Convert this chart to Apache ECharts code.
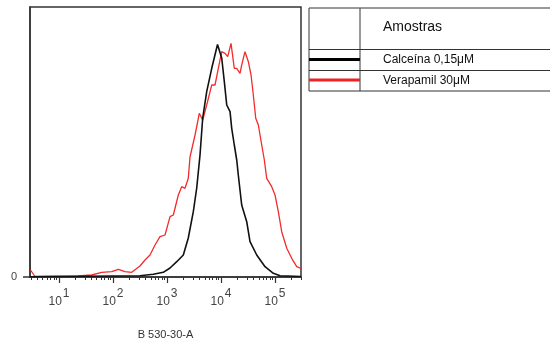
<!DOCTYPE html>
<html><head><meta charset="utf-8">
<script src="https://cdn.jsdelivr.net/npm/echarts@6/dist/echarts.min.js"></script>
<style>html,body{margin:0;padding:0;background:#fff}#c{width:550px;height:341px}</style>
</head><body><div id="c"></div>
<script>
// x values are log10(fluorescence intensity), y values are event counts (relative)
const seriesNames = ['Calceína 0,15μM', 'Verapamil 30μM'];
const legendTitle = 'Amostras';
const xTitle = 'B 530-30-A';
const majorTicks = [1, 2, 3, 4, 5];
const yTickLabels = [0];

const calceinaLog = [0.463, 2.5, 2.746, 2.931, 3.056, 3.180, 3.302, 3.394, 3.487, 3.550, 3.611, 3.661, 3.735, 3.828, 3.935, 4.013, 4.061, 4.106, 4.167, 4.198, 4.246, 4.291, 4.320, 4.383, 4.476, 4.537, 4.661, 4.815, 4.969, 5.093, 5.481];
const calceinaCount = [0.3, 1.3, 2.7, 4.7, 9, 15.3, 22, 39, 65.3, 89, 122, 159, 185.3, 208.7, 232.5, 219, 195.3, 172, 165.3, 148.7, 132, 117, 102, 72, 55.3, 35.3, 22, 10.3, 3.7, 1.3, 0.5];

const verapamilLog = [0.472, 0.556, 1.352, 1.606, 1.791, 1.976, 2.098, 2.222, 2.346, 2.5, 2.593, 2.685, 2.778, 2.870, 2.963, 3.056, 3.117, 3.209, 3.272, 3.333, 3.394, 3.426, 3.519, 3.598, 3.661, 3.735, 3.828, 3.889, 3.950, 4.013, 4.074, 4.124, 4.185, 4.246, 4.291, 4.352, 4.383, 4.444, 4.506, 4.556, 4.598, 4.643, 4.691, 4.754, 4.802, 4.846, 4.939, 5.0, 5.061, 5.124, 5.217, 5.309, 5.402, 5.481];
const verapamilCount = [7, 0.5, 1, 2, 4.7, 5.3, 7.7, 5.3, 4.7, 11, 17, 22, 32, 40.3, 42, 60.3, 62, 82, 90.3, 88.7, 98.7, 120, 142, 163.7, 157, 172, 192, 192, 208.7, 225.3, 223.7, 220.3, 233.7, 208.7, 208.7, 203.7, 212, 225.3, 215.3, 202, 182, 158.7, 152, 132, 117, 98.7, 90.3, 82, 65.3, 45.3, 28.7, 18.7, 10.3, 8.7];

const xMin = 0.463, xMax = 5.481;
const minorTicks = [];
for (let d = 0; d <= 5; d++) for (let k = 2; k <= 9; k++) {
  const v = d + Math.log10(k);
  if (v > xMin && v < xMax) minorTicks.push(v);
}

const chart = echarts.init(document.getElementById('c'), null, {renderer: 'canvas'});
const axisColor = '#333';
chart.setOption({
  animation: false,
  grid: {left: 30, top: 7, right: 249, bottom: 64, outerBoundsMode: 'none', containLabel: false,
    show: true, borderColor: axisColor, borderWidth: 1.5, backgroundColor: 'transparent'},
  xAxis: [{
    type: 'value', min: xMin, max: xMax,
    axisLine: {show: true, lineStyle: {color: axisColor, width: 1.5}},
    axisTick: {show: true, customValues: minorTicks, length: 3, lineStyle: {color: axisColor}},
    axisLabel: {show: false}, splitLine: {show: false},
    name: xTitle, nameLocation: 'middle', nameGap: 52,
    nameTextStyle: {fontFamily: 'Liberation Sans', fontSize: 11, color: '#333'}
  }, {
    type: 'value', min: xMin, max: xMax, position: 'bottom',
    axisLine: {show: false},
    axisTick: {show: true, customValues: majorTicks, length: 6, lineStyle: {color: axisColor, width: 1.2}},
    axisLabel: {show: true, customValues: majorTicks, margin: 10,
      formatter: v => '{b|10}{s|' + v + '}',
      rich: {
        b: {fontFamily: 'Liberation Sans', fontSize: 12, color: '#444', padding: [9, 0, 0, 0]},
        s: {fontFamily: 'Liberation Sans', fontSize: 12, color: '#444', padding: [0, 0, 8, 1]}
      }},
    splitLine: {show: false}
  },],
  yAxis: {
    type: 'value', min: 0, max: 270,
    axisLine: {show: true, lineStyle: {color: axisColor, width: 1.5}},
    axisTick: {show: true, customValues: yTickLabels, length: 7, lineStyle: {color: axisColor, width: 1.5}},
    axisLabel: {show: true, customValues: yTickLabels, margin: 13, padding: [0, 0, 6, 0], fontFamily: 'Liberation Sans', fontSize: 11, color: '#444'},
    splitLine: {show: false}
  },
  series: [{
    name: seriesNames[0], type: 'line', xAxisIndex: 0, showSymbol: false, z: 3,
    data: calceinaLog.map((x, i) => [x, calceinaCount[i]]),
    lineStyle: {color: '#111', width: 1.6}
  }, {
    name: seriesNames[1], type: 'line', xAxisIndex: 0, showSymbol: false, z: 2,
    data: verapamilLog.map((x, i) => [x, verapamilCount[i]]),
    lineStyle: {color: '#f22c2c', width: 1.3}
  }],
  graphic: [
    {type: 'line', shape: {x1: 309, y1: 8, x2: 550, y2: 8}, style: {stroke: '#333', lineWidth: 1}},
    {type: 'line', shape: {x1: 309, y1: 8, x2: 309, y2: 91}, style: {stroke: '#555', lineWidth: 1.2}},
    {type: 'line', shape: {x1: 360, y1: 8, x2: 360, y2: 91}, style: {stroke: '#555', lineWidth: 1.2}},
    {type: 'line', shape: {x1: 309, y1: 49.5, x2: 550, y2: 49.5}, style: {stroke: '#333', lineWidth: 1}},
    {type: 'line', shape: {x1: 309, y1: 70.5, x2: 550, y2: 70.5}, style: {stroke: '#333', lineWidth: 1}},
    {type: 'line', shape: {x1: 309, y1: 91, x2: 550, y2: 91}, style: {stroke: '#333', lineWidth: 1}},
    {type: 'line', shape: {x1: 309, y1: 59.5, x2: 360, y2: 59.5}, style: {stroke: '#000', lineWidth: 3}},
    {type: 'line', shape: {x1: 309, y1: 80, x2: 360, y2: 80}, style: {stroke: '#ee2222', lineWidth: 3}},
    {type: 'text', x: 383, y: 27, style: {text: legendTitle, font: '14px "Liberation Sans"', fill: '#111', verticalAlign: 'middle'}},
    {type: 'text', x: 383, y: 60, style: {text: seriesNames[0], font: '12px "Liberation Sans"', fill: '#111', verticalAlign: 'middle'}},
    {type: 'text', x: 383, y: 80.5, style: {text: seriesNames[1], font: '12px "Liberation Sans"', fill: '#111', verticalAlign: 'middle'}}
  ]
});
</script>
</body></html>
